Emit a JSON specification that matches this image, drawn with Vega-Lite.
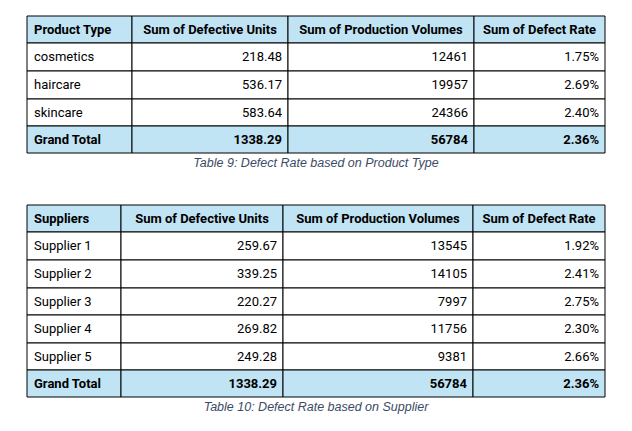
{
  "$schema": "https://vega.github.io/schema/vega-lite/v6.json",
  "width": 632,
  "height": 431,
  "padding": 0,
  "autosize": "none",
  "background": "white",
  "config": {"view": {"stroke": null}},
  "datasets": {
    "cells": [
      {"x0": 27, "x1": 132, "y0": 16, "y1": 43, "t": "Product Type", "a": "left", "b": 1},
      {"x0": 132, "x1": 288, "y0": 16, "y1": 43, "t": "Sum of Defective Units", "a": "center", "b": 1},
      {"x0": 288, "x1": 474, "y0": 16, "y1": 43, "t": "Sum of Production Volumes", "a": "center", "b": 1},
      {"x0": 474, "x1": 605, "y0": 16, "y1": 43, "t": "Sum of Defect Rate", "a": "center", "b": 1},
      {"x0": 27, "x1": 132, "y0": 43, "y1": 71, "t": "cosmetics", "a": "left", "b": 0},
      {"x0": 132, "x1": 288, "y0": 43, "y1": 71, "t": "218.48", "a": "right", "b": 0},
      {"x0": 288, "x1": 474, "y0": 43, "y1": 71, "t": "12461", "a": "right", "b": 0},
      {"x0": 474, "x1": 605, "y0": 43, "y1": 71, "t": "1.75%", "a": "right", "b": 0},
      {"x0": 27, "x1": 132, "y0": 71, "y1": 99, "t": "haircare", "a": "left", "b": 0},
      {"x0": 132, "x1": 288, "y0": 71, "y1": 99, "t": "536.17", "a": "right", "b": 0},
      {"x0": 288, "x1": 474, "y0": 71, "y1": 99, "t": "19957", "a": "right", "b": 0},
      {"x0": 474, "x1": 605, "y0": 71, "y1": 99, "t": "2.69%", "a": "right", "b": 0},
      {"x0": 27, "x1": 132, "y0": 99, "y1": 126, "t": "skincare", "a": "left", "b": 0},
      {"x0": 132, "x1": 288, "y0": 99, "y1": 126, "t": "583.64", "a": "right", "b": 0},
      {"x0": 288, "x1": 474, "y0": 99, "y1": 126, "t": "24366", "a": "right", "b": 0},
      {"x0": 474, "x1": 605, "y0": 99, "y1": 126, "t": "2.40%", "a": "right", "b": 0},
      {"x0": 27, "x1": 132, "y0": 126, "y1": 153, "t": "Grand Total", "a": "left", "b": 1},
      {"x0": 132, "x1": 288, "y0": 126, "y1": 153, "t": "1338.29", "a": "right", "b": 1},
      {"x0": 288, "x1": 474, "y0": 126, "y1": 153, "t": "56784", "a": "right", "b": 1},
      {"x0": 474, "x1": 605, "y0": 126, "y1": 153, "t": "2.36%", "a": "right", "b": 1},
      {"x0": 27, "x1": 121, "y0": 205, "y1": 232, "t": "Suppliers", "a": "left", "b": 1},
      {"x0": 121, "x1": 283, "y0": 205, "y1": 232, "t": "Sum of Defective Units", "a": "center", "b": 1},
      {"x0": 283, "x1": 473, "y0": 205, "y1": 232, "t": "Sum of Production Volumes", "a": "center", "b": 1},
      {"x0": 473, "x1": 605, "y0": 205, "y1": 232, "t": "Sum of Defect Rate", "a": "center", "b": 1},
      {"x0": 27, "x1": 121, "y0": 232, "y1": 260, "t": "Supplier 1", "a": "left", "b": 0},
      {"x0": 121, "x1": 283, "y0": 232, "y1": 260, "t": "259.67", "a": "right", "b": 0},
      {"x0": 283, "x1": 473, "y0": 232, "y1": 260, "t": "13545", "a": "right", "b": 0},
      {"x0": 473, "x1": 605, "y0": 232, "y1": 260, "t": "1.92%", "a": "right", "b": 0},
      {"x0": 27, "x1": 121, "y0": 260, "y1": 288, "t": "Supplier 2", "a": "left", "b": 0},
      {"x0": 121, "x1": 283, "y0": 260, "y1": 288, "t": "339.25", "a": "right", "b": 0},
      {"x0": 283, "x1": 473, "y0": 260, "y1": 288, "t": "14105", "a": "right", "b": 0},
      {"x0": 473, "x1": 605, "y0": 260, "y1": 288, "t": "2.41%", "a": "right", "b": 0},
      {"x0": 27, "x1": 121, "y0": 288, "y1": 315, "t": "Supplier 3", "a": "left", "b": 0},
      {"x0": 121, "x1": 283, "y0": 288, "y1": 315, "t": "220.27", "a": "right", "b": 0},
      {"x0": 283, "x1": 473, "y0": 288, "y1": 315, "t": "7997", "a": "right", "b": 0},
      {"x0": 473, "x1": 605, "y0": 288, "y1": 315, "t": "2.75%", "a": "right", "b": 0},
      {"x0": 27, "x1": 121, "y0": 315, "y1": 343, "t": "Supplier 4", "a": "left", "b": 0},
      {"x0": 121, "x1": 283, "y0": 315, "y1": 343, "t": "269.82", "a": "right", "b": 0},
      {"x0": 283, "x1": 473, "y0": 315, "y1": 343, "t": "11756", "a": "right", "b": 0},
      {"x0": 473, "x1": 605, "y0": 315, "y1": 343, "t": "2.30%", "a": "right", "b": 0},
      {"x0": 27, "x1": 121, "y0": 343, "y1": 370, "t": "Supplier 5", "a": "left", "b": 0},
      {"x0": 121, "x1": 283, "y0": 343, "y1": 370, "t": "249.28", "a": "right", "b": 0},
      {"x0": 283, "x1": 473, "y0": 343, "y1": 370, "t": "9381", "a": "right", "b": 0},
      {"x0": 473, "x1": 605, "y0": 343, "y1": 370, "t": "2.66%", "a": "right", "b": 0},
      {"x0": 27, "x1": 121, "y0": 370, "y1": 397, "t": "Grand Total", "a": "left", "b": 1},
      {"x0": 121, "x1": 283, "y0": 370, "y1": 397, "t": "1338.29", "a": "right", "b": 1},
      {"x0": 283, "x1": 473, "y0": 370, "y1": 397, "t": "56784", "a": "right", "b": 1},
      {"x0": 473, "x1": 605, "y0": 370, "y1": 397, "t": "2.36%", "a": "right", "b": 1}
    ],
    "captions": [
      {"x": 316, "y": 163, "t": "Table 9: Defect Rate based on Product Type"},
      {"x": 316, "y": 407, "t": "Table 10: Defect Rate based on Supplier"}
    ]
  },
  "data": {"name": "cells"},
  "transform": [
    {"calculate": "datum.a == 'left' ? datum.x0 + 7 : datum.a == 'right' ? datum.x1 - 6 : (datum.x0 + datum.x1) / 2", "as": "tx"},
    {"calculate": "(datum.y0 + datum.y1) / 2", "as": "ty"}
  ],
  "encoding": {},
  "layer": [
    {
      "mark": {"type": "rect", "stroke": "black", "strokeWidth": 1},
      "encoding": {
        "x": {"field": "x0", "type": "quantitative", "scale": {"domain": [0, 632], "nice": false, "zero": false}, "axis": null},
        "x2": {"field": "x1"},
        "y": {"field": "y0", "type": "quantitative", "scale": {"domain": [0, 431], "reverse": true, "nice": false, "zero": false}, "axis": null},
        "y2": {"field": "y1"},
        "fill": {"condition": {"test": "datum.b == 1", "value": "#c1e4f5"}, "value": "white"}
      }
    },
    {
      "transform": [{"filter": "datum.a == 'left' && datum.b == 0"}],
      "mark": {"type": "text", "align": "left", "baseline": "middle", "font": "Roboto", "fontSize": 13, "color": "black"},
      "encoding": {"x": {"field": "tx", "type": "quantitative"}, "y": {"field": "ty", "type": "quantitative"}, "text": {"field": "t"}}
    },
    {
      "transform": [{"filter": "datum.a == 'left' && datum.b == 1"}],
      "mark": {"type": "text", "align": "left", "baseline": "middle", "font": "Roboto", "fontSize": 13, "fontWeight": "bold", "color": "black"},
      "encoding": {"x": {"field": "tx", "type": "quantitative"}, "y": {"field": "ty", "type": "quantitative"}, "text": {"field": "t"}}
    },
    {
      "transform": [{"filter": "datum.a == 'right' && datum.b == 0"}],
      "mark": {"type": "text", "align": "right", "baseline": "middle", "font": "Roboto", "fontSize": 13, "color": "black"},
      "encoding": {"x": {"field": "tx", "type": "quantitative"}, "y": {"field": "ty", "type": "quantitative"}, "text": {"field": "t"}}
    },
    {
      "transform": [{"filter": "datum.a == 'right' && datum.b == 1"}],
      "mark": {"type": "text", "align": "right", "baseline": "middle", "font": "Roboto", "fontSize": 13, "fontWeight": "bold", "color": "black"},
      "encoding": {"x": {"field": "tx", "type": "quantitative"}, "y": {"field": "ty", "type": "quantitative"}, "text": {"field": "t"}}
    },
    {
      "transform": [{"filter": "datum.a == 'center'"}],
      "mark": {"type": "text", "align": "center", "baseline": "middle", "font": "Roboto", "fontSize": 13, "fontWeight": "bold", "color": "black"},
      "encoding": {"x": {"field": "tx", "type": "quantitative"}, "y": {"field": "ty", "type": "quantitative"}, "text": {"field": "t"}}
    },
    {
      "data": {"name": "captions"},
      "mark": {"type": "text", "align": "center", "baseline": "middle", "font": "Liberation Sans", "fontSize": 12.5, "fontStyle": "italic", "color": "#3b4b66"},
      "encoding": {"x": {"field": "x", "type": "quantitative"}, "y": {"field": "y", "type": "quantitative"}, "text": {"field": "t"}}
    }
  ]
}
